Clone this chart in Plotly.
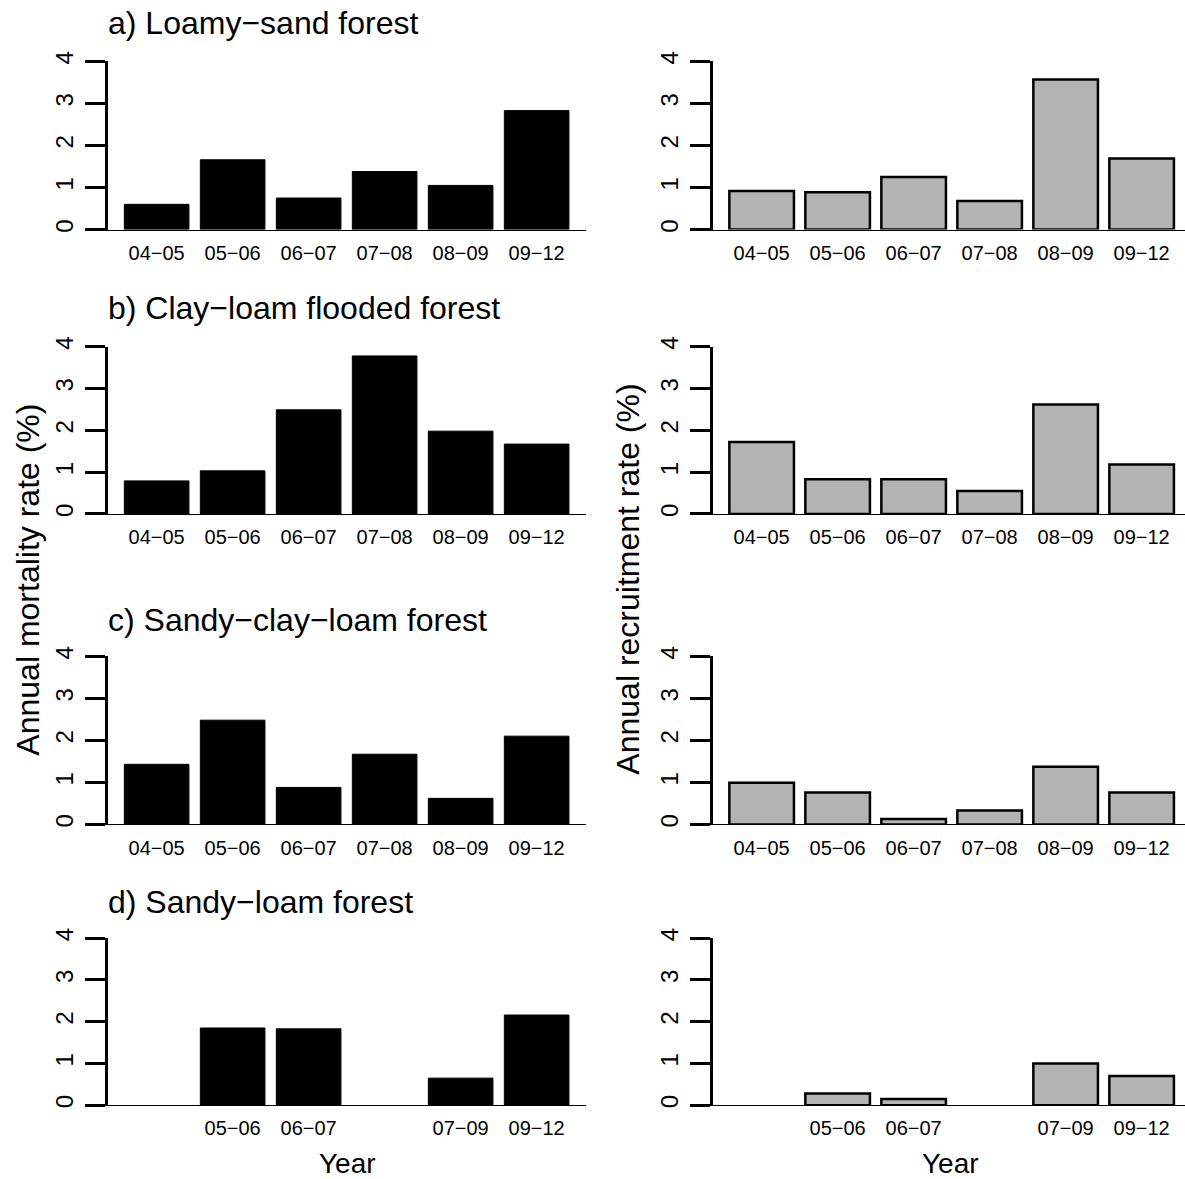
import plotly.graph_objects as go

W, H = 1185, 1179

# ---- data ----
periods = ["04−05", "05−06", "06−07", "07−08", "08−09", "09−12"]
periods_d = ["", "05−06", "06−07", "", "07−09", "09−12"]

mort_a = [0.60, 1.66, 0.75, 1.38, 1.05, 2.83]
mort_b = [0.79, 1.03, 2.49, 3.78, 1.98, 1.67]
mort_c = [1.43, 2.48, 0.88, 1.67, 0.62, 2.10]
mort_d = [None, 1.85, 1.83, None, 0.65, 2.16]

recr_a = [0.92, 0.89, 1.25, 0.68, 3.57, 1.69]
recr_b = [1.72, 0.83, 0.83, 0.55, 2.62, 1.18]
recr_c = [0.99, 0.76, 0.13, 0.33, 1.37, 0.76]
recr_d = [None, 0.28, 0.15, None, 1.00, 0.70]

titles = ["a) Loamy−sand forest", "b) Clay−loam flooded forest",
          "c) Sandy−clay−loam forest", "d) Sandy−loam forest"]
ylab_left = "Annual mortality rate (%)"
ylab_right = "Annual recruitment rate (%)"
xlab = "Year"
yticks = [0, 1, 2, 3, 4]

rows = [
    (periods, mort_a, recr_a),
    (periods, mort_b, recr_b),
    (periods, mort_c, recr_c),
    (periods_d, mort_d, recr_d),
]

# ---- layout geometry (pixels) ----
row_px = [(222, 52), (509.5, 340.5), (823.5, 653.5), (1107.5, 938.5)]  # (baseline, top)
title_y = [13, 301, 617, 902]
left_dom = (108, 586)
right_dom = (713, 1185)
unit = 76.0
x0_val = 0.36

FONT = "Liberation Sans, Arial, Helvetica, sans-serif"

fig = go.Figure()
layout = dict(
    width=W, height=H, margin=dict(l=0, r=0, t=0, b=0),
    paper_bgcolor="white", plot_bgcolor="white", showlegend=False,
    font=dict(family=FONT, color="black"),
    bargap=0.15,
)

idx = 0
for r, (cats, mort, recr) in enumerate(rows):
    base, top = row_px[r]
    ydom = [1 - base / H, 1 - top / H]
    for c, (vals, fill, lw) in enumerate([(mort, "black", 1), (recr, "#b3b3b3", 2.5)]):
        idx += 1
        sfx = "" if idx == 1 else str(idx)
        dom = left_dom if c == 0 else right_dom
        xr = [x0_val, x0_val + (dom[1] - dom[0]) / unit]
        xpos = list(range(1, len(cats) + 1))
        fig.add_trace(go.Bar(
            x=xpos, y=vals, width=0.85,
            marker=dict(color=fill, line=dict(color="black", width=lw)),
            xaxis="x" + sfx, yaxis="y" + sfx, hoverinfo="skip",
        ))
        layout["xaxis" + sfx] = dict(
            domain=[dom[0] / W, dom[1] / W], range=xr, anchor="y" + sfx,
            tickmode="array", tickvals=xpos, ticktext=cats, ticks="",
            showgrid=False, zeroline=False, showline=True, linecolor="black",
            linewidth=1.3, tickfont=dict(size=20, family=FONT),
            ticklabelstandoff=5, fixedrange=True,
        )
        layout["yaxis" + sfx] = dict(
            domain=ydom, range=[0, 4], anchor="x" + sfx,
            tickmode="array", tickvals=yticks, ticktext=[str(v) for v in yticks],
            ticks="outside", ticklen=20, tickwidth=2.5, tickcolor="black",
            showline=True, linewidth=2.5, linecolor="black",
            showgrid=False, zeroline=False, tickangle=-90,
            tickfont=dict(size=24, family=FONT), ticklabelstandoff=3,
            fixedrange=True,
        )

annotations = []
for r in range(4):
    annotations.append(dict(
        text=titles[r], x=106 / W, y=1 - title_y[r] / H, xref="paper", yref="paper",
        xanchor="left", yanchor="middle", showarrow=False,
        font=dict(size=32, family=FONT, color="black"),
    ))
annotations.append(dict(
    text=ylab_left, x=28 / W, y=1 - 576 / H, xref="paper", yref="paper",
    textangle=-90, showarrow=False, xanchor="center", yanchor="middle",
    font=dict(size=32, family=FONT, color="black"),
))
annotations.append(dict(
    text=ylab_right, x=628 / W, y=1 - 576 / H, xref="paper", yref="paper",
    textangle=-90, showarrow=False, xanchor="center", yanchor="middle",
    font=dict(size=32, family=FONT, color="black"),
))
for xc in (347, 950):
    annotations.append(dict(
        text=xlab, x=xc / W, y=1 - 1166 / H, xref="paper", yref="paper",
        showarrow=False, xanchor="center", yanchor="middle",
        font=dict(size=28, family=FONT, color="black"),
    ))
layout["annotations"] = annotations

fig.update_layout(**layout)
fig.write_html(
    "out.html",
    config={"displayModeBar": False},
    post_script="document.body.style.margin='0';document.body.style.padding='0';"
                "document.documentElement.style.overflow='hidden';",
)
